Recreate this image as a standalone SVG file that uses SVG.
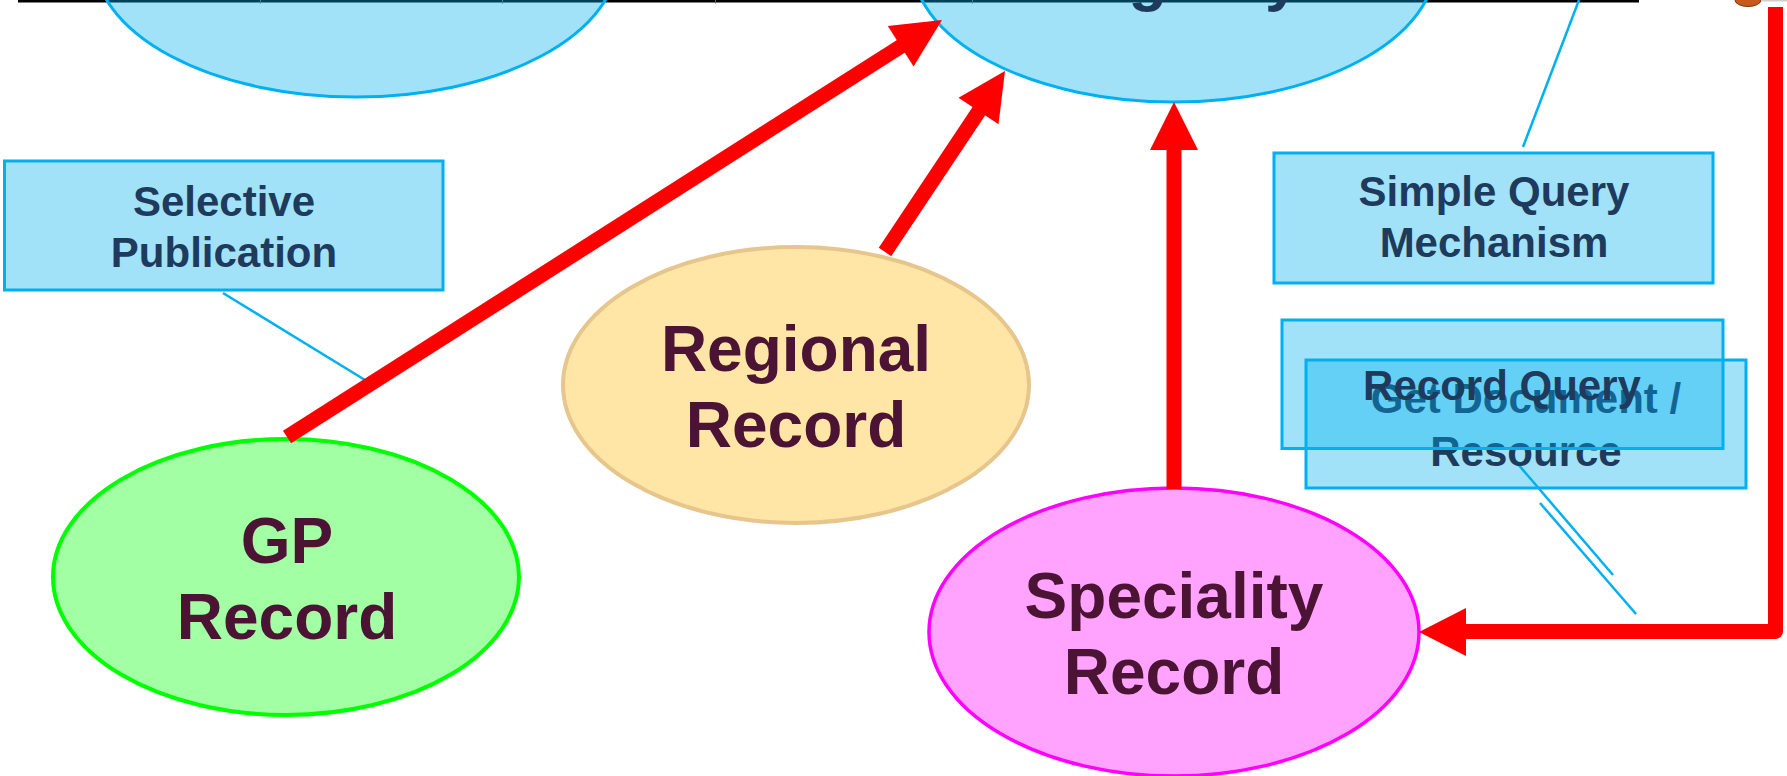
<svg xmlns="http://www.w3.org/2000/svg" width="1787" height="776" viewBox="0 0 1787 776">
  <style>
    .cyan { fill: #00b0f0; fill-opacity: 0.37; stroke: #00b0f0; stroke-width: 3; }
    .box-text { font-family: "Liberation Sans", Arial, sans-serif; font-weight: bold; font-size: 42px; fill: #1e3a5c; text-anchor: middle; }
    .rec-text { font-family: "Liberation Sans", Arial, sans-serif; font-weight: bold; font-size: 64px; fill: #4b1334; text-anchor: middle; }
    .link { stroke: #00b0f0; stroke-width: 2.5; fill: none; }
    .flow { stroke: #ff0000; stroke-width: 15; fill: none; }
    .head { fill: #ff0000; }
  </style>

  <!-- table border running along the top edge -->
  <g id="top-border">
    <rect x="18" y="0" width="1621" height="2.5" fill="#000"/>
    <rect x="260" y="0" width="1" height="3.5" fill="#666"/>
    <rect x="502" y="0" width="1" height="3.5" fill="#666"/>
    <rect x="715" y="0" width="1" height="3.5" fill="#666"/>
    <rect x="972" y="0" width="1" height="3.5" fill="#666"/>
    <ellipse cx="1748" cy="0" rx="13" ry="6.5" fill="#c65a1c" stroke="#7a3010" stroke-width="1"/>
    <rect x="1761" y="0" width="26" height="1.5" fill="#cfcfcf"/>
  </g>

  <!-- upper ellipses, mostly above the visible area -->
  <g id="left-hub">
    <ellipse class="cyan" cx="356" cy="-43" rx="262" ry="140"/>
  </g>
  <g id="registry">
    <ellipse class="cyan" cx="1174" cy="-38" rx="262" ry="140"/>
    <text class="box-text" x="1174" y="-1" style="font-size:63px">Registry</text>
  </g>

  <!-- thin callout lines -->
  <g id="connectors-thin">
    <line class="link" x1="223" y1="293" x2="365" y2="380"/>
    <line class="link" x1="1523" y1="147" x2="1579" y2="0"/>
    <line class="link" x1="1517" y1="463" x2="1613" y2="575"/>
    <line class="link" x1="1540" y1="503" x2="1636" y2="614"/>
  </g>

  <g id="selective-publication">
    <rect class="cyan" x="4.5" y="161" width="438.5" height="129"/>
    <text class="box-text" x="224" y="216">Selective</text>
    <text class="box-text" x="224" y="267">Publication</text>
  </g>

  <g id="simple-query">
    <rect class="cyan" x="1274" y="153" width="439" height="130"/>
    <text class="box-text" x="1494" y="206">Simple Query</text>
    <text class="box-text" x="1494" y="257">Mechanism</text>
  </g>

  <g id="get-document">
    <rect class="cyan" x="1306" y="360" width="440" height="128"/>
    <text class="box-text" x="1526" y="413">Get Document /</text>
    <text class="box-text" x="1526" y="466">Resource</text>
  </g>

  <g id="record-query">
    <rect class="cyan" x="1282" y="320" width="441" height="128.5"/>
    <text class="box-text" x="1502" y="400">Record Query</text>
  </g>

  <g id="gp-record">
    <ellipse cx="286" cy="577" rx="233" ry="138" fill="#a3ffa3" stroke="#00ff00" stroke-width="4"/>
    <text class="rec-text" x="287" y="563">GP</text>
    <text class="rec-text" x="287" y="639">Record</text>
  </g>

  <g id="regional-record">
    <ellipse cx="796" cy="385" rx="233" ry="138" fill="#ffe6a6" stroke="#e6c68c" stroke-width="4"/>
    <text class="rec-text" x="796" y="371">Regional</text>
    <text class="rec-text" x="796" y="447">Record</text>
  </g>

  <g id="speciality-record">
    <ellipse cx="1174" cy="632" rx="245" ry="144" fill="#ffa3ff" stroke="#ff00ff" stroke-width="3.5"/>
    <text class="rec-text" x="1174" y="618">Speciality</text>
    <text class="rec-text" x="1174" y="694">Record</text>
  </g>

  <!-- red data flows -->
  <g id="connectors">
    <line class="flow" x1="287" y1="437" x2="903" y2="45"/>
    <polygon class="head" points="942,20 913.6,66.5 887.8,26.1"/>

    <line class="flow" x1="885" y1="252" x2="981" y2="108"/>
    <polygon class="head" points="1005,71 998.5,124.3 958.5,97.7"/>

    <line class="flow" x1="1174" y1="489" x2="1174" y2="148"/>
    <polygon class="head" points="1174,102 1150,150 1198,150"/>

    <path class="flow" stroke-linejoin="round" d="M1775.5 7 L1775.5 631.5 L1463 631.5"/>
    <polygon class="head" points="1419,632 1466,608 1466,656"/>
  </g>
</svg>
